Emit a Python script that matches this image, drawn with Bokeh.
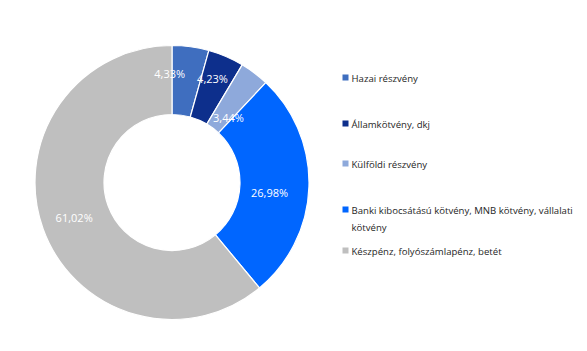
import math
from bokeh.plotting import figure
from bokeh.models import ColumnDataSource, Range1d
from bokeh.core.properties import value
from bokeh.embed import file_html
from bokeh.resources import INLINE

categories = ["Hazai részvény", "Államkötvény, dkj", "Külföldi részvény",
              "Banki kibocsátású kötvény, MNB kötvény, vállalati kötvény",
              "Készpénz, folyószámlapénz, betét"]
legend_labels = ["Hazai részvény", "Államkötvény, dkj", "Külföldi részvény",
                 "Banki kibocsátású kötvény, MNB kötvény, vállalati\nkötvény",
                 "Készpénz, folyószámlapénz, betét"]
shares = [4.33, 4.23, 3.44, 26.98, 61.02]
label_texts = ["4,33%", "4,23%", "3,44%", "26,98%", "61,02%"]
colors = ["#3F6EBF", "#0D2F8C", "#8EA9DB", "#0066FF", "#BFBFBF"]

W, H = 587, 351
cx, cy = 171.5, H - 182
r_out, r_in = 137, 68
# label placement tweaks (radius, angle offset in degrees) to mimic reference
label_r = [109, 112, 86, 98, 104]
label_da = [-9, -2, 4, 4, 0]
legend_y = [77, 123, 163, 209, 250]

total = sum(shares)
starts, ends, lx, ly = [], [], [], []
cum = 0.0
for i, s in enumerate(shares):
    a0 = cum / total
    cum += s
    a1 = cum / total
    starts.append(math.pi / 2 - 2 * math.pi * a0)
    ends.append(math.pi / 2 - 2 * math.pi * a1)
    mid = (a0 + a1) / 2 * 360 + label_da[i]
    lx.append(cx + label_r[i] * math.sin(math.radians(mid)))
    ly.append(cy + label_r[i] * math.cos(math.radians(mid)))

src = ColumnDataSource(dict(start=starts, end=ends, color=colors,
                            lx=lx, ly=ly, lab=label_texts))

p = figure(width=W, height=H, output_backend="svg", toolbar_location=None,
           x_range=Range1d(0, W), y_range=Range1d(0, H), min_border=0)
p.axis.visible = False
p.grid.visible = False
p.outline_line_color = None

p.annular_wedge(x=cx, y=cy, inner_radius=r_in, outer_radius=r_out,
                start_angle="start", end_angle="end", direction="clock",
                fill_color="color", line_color="white", line_width=1.2, source=src)

p.text(x="lx", y="ly", text="lab", source=src, text_color="white",
       text_font=value("Open Sans"), text_font_size="11px",
       text_align="center", text_baseline="middle")

ley = [H - y for y in legend_y]
p.scatter(x=[345] * len(colors), y=ley, marker="square", size=6,
          fill_color=colors, line_color=None)
p.text(x=[351] * len(colors), y=ley, text=legend_labels, text_color="#262626",
       text_font=value("Open Sans"), text_font_size="9.6px",
       text_align="left", text_baseline="top", y_offset=-6, text_line_height=1.35)

open("out.html", "w").write(file_html(p, INLINE))
